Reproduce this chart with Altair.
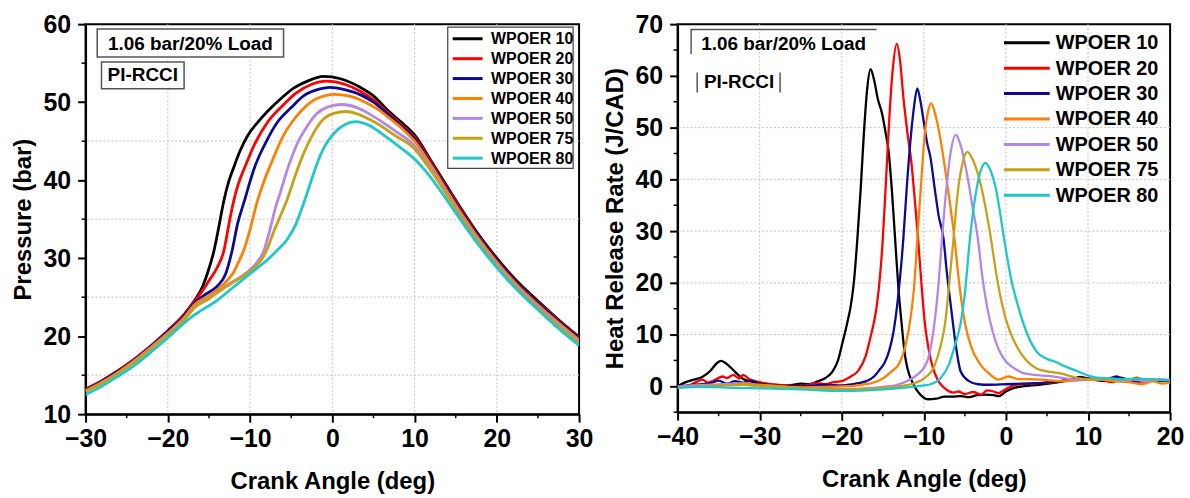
import altair as alt
import pandas as pd

FONT = "Liberation Sans"

SERIES = ["WPOER 10", "WPOER 20", "WPOER 30", "WPOER 40", "WPOER 50", "WPOER 75", "WPOER 80"]
COLORS = ["#000000", "#ff0000", "#0a0a96", "#ff8000", "#b586e3", "#c8a018", "#1ec8c8"]

# ---------------- Pressure (left panel) ----------------
COMP_CA = [-30, -28, -26, -24, -22, -20, -18, -16.8]
EXP_CA = [10, 12, 14.3, 16, 18, 20, 22.5, 25, 27.5, 30]

P10_CA = COMP_CA + [-15.8, -15.2, -14.4, -13.8, -13.2, -12.6, -12, -11.2, -10.3, -9,
                    -7.9, -6, -4.7, -3, -1.1, 1, 3.4, 5, 6.6, 8.3] + EXP_CA
P10_BAR = [13.2, 14.3, 15.6, 17.1, 18.8, 20.7, 22.8, 24.5,
           26.3, 28.0, 30.9, 34.0, 37.3, 39.8, 41.6, 43.8, 45.7, 47.5,
           48.8, 50.7, 51.8, 52.7, 53.3, 53.0, 51.9, 50.8, 49.1, 47.5,
           45.8, 42.5, 38.6, 35.8, 32.7, 30.0, 27.0, 24.5, 22.1, 19.9]

P20_CA = COMP_CA + [-16, -15, -14, -13.2, -12.6, -12, -11.4, -10.7, -9.5, -7.9,
                    -6, -4.5, -2.5, -0.7, 1.5, 3.4, 5, 6.6, 8.3] + EXP_CA
P20_BAR = [13.2, 14.3, 15.6, 17.1, 18.8, 20.7, 22.8, 24.4,
           25.5, 27.1, 28.8, 30.9, 34.2, 37.3, 39.6, 41.5, 44.5, 47.4,
           49.6, 51.1, 52.3, 52.7, 52.3, 51.4, 50.3, 48.8, 47.2,
           45.5, 42.3, 38.4, 35.6, 32.5, 29.8, 26.8, 24.3, 22.0, 19.8]

P30_CA = COMP_CA + [-15.5, -14, -13, -12.2, -11.5, -10.7, -10.1, -9.5, -8.2, -6.7,
                    -5, -3.5, -1.5, -0.3, 1.5, 3.5, 5, 6.6, 8.3] + EXP_CA
P30_BAR = [13.1, 14.2, 15.5, 17.0, 18.7, 20.6, 22.6, 24.2,
           25.3, 26.4, 27.9, 30.9, 34.5, 37.3, 39.5, 41.5, 44.6, 47.4,
           49.3, 50.8, 51.7, 51.9, 51.6, 50.9, 50.0, 48.6, 47.0,
           45.3, 42.1, 38.2, 35.4, 32.4, 29.7, 26.7, 24.2, 21.9, 19.7]

P40_CA = COMP_CA + [-15, -13, -12, -11.4, -10.7, -10, -9.2, -8.5, -7.5, -5.9,
                    -4.5, -3.5, -2, 0.3, 2, 4, 5.5, 7, 8.5] + EXP_CA
P40_BAR = [13.0, 14.1, 15.4, 16.9, 18.6, 20.4, 22.4, 24.0,
           25.2, 26.9, 28.2, 29.5, 31.2, 33.7, 37.0, 39.3, 42.0, 45.8,
           48.0, 49.2, 50.4, 51.0, 50.8, 50.0, 49.1, 47.9, 46.6,
           45.0, 41.9, 38.0, 35.2, 32.2, 29.5, 26.5, 24.0, 21.7, 19.5]

P50_CA = COMP_CA + [-15, -13, -11, -10, -9.2, -8.3, -7.6, -6.9, -6.3, -5.3,
                    -4.3, -3, -1.9, -0.5, 1.2, 3, 4.5, 6, 7.5] + EXP_CA
P50_BAR = [12.9, 14.0, 15.3, 16.8, 18.5, 20.3, 22.2, 23.7,
           24.9, 26.4, 27.7, 28.5, 29.4, 31.0, 33.6, 36.5, 38.5, 41.9,
           44.6, 47.0, 48.5, 49.4, 49.7, 49.3, 48.5, 47.5, 46.4,
           44.4, 41.5, 37.7, 34.9, 31.9, 29.2, 26.3, 23.8, 21.5, 19.3]

P75_CA = COMP_CA + [-15, -13, -11, -9.5, -8.5, -7.9, -7.2, -6.4, -5.5, -4.5,
                    -3.5, -2.3, -1.1, 0.3, 1.6, 3, 4.5, 6, 7.5] + EXP_CA
P75_BAR = [12.9, 14.0, 15.3, 16.7, 18.4, 20.2, 22.1, 23.6,
           24.8, 26.3, 27.6, 28.8, 30.0, 31.2, 33.2, 35.2, 37.5, 40.6,
           43.4, 46.0, 47.8, 48.6, 48.8, 48.5, 47.8, 46.9, 45.8,
           44.0, 41.2, 37.5, 34.7, 31.7, 29.0, 26.1, 23.6, 21.3, 19.1]

P80_CA = COMP_CA + [-14, -12, -9.9, -8, -6.7, -5.5, -4.5, -3.5, -2.7, -1.9,
                    -1, 0.1, 1.5, 2.8, 4.5, 6.2, 8] + EXP_CA
P80_BAR = [12.5, 13.6, 14.9, 16.3, 18.0, 19.8, 21.7, 22.7,
           24.6, 26.3, 28.1, 29.7, 31.0, 32.4, 34.2, 37.0, 39.5, 42.0,
           44.2, 45.9, 47.1, 47.5, 47.0, 45.8, 44.4,
           42.7, 40.3, 36.9, 34.3, 31.4, 28.8, 25.9, 23.4, 21.0, 18.8]

# ---------------- Heat release rate (right panel) ----------------
H10_CA = [-40, -39, -38, -37, -36, -35.2, -34.7, -34, -33, -32, -31, -30, -28, -26, -25, -24, -23, -22,
          -21.2, -20.5, -19.9, -19.3, -18.9, -18.5, -18.1, -17.7, -17.3, -16.9, -16.5, -16.1, -15.6,
          -15.1, -14.6, -14.3, -13.9, -13.5, -13.1, -12.7, -12.3, -12, -11.3, -10.5, -9.5, -8.5, -7.5,
          -6.5, -5.5, -4.5, -3.5, -2.5, -1.5, -0.9, 0, 1, 2, 4, 6, 8, 9, 10, 11, 12, 13, 14, 15, 16,
          17, 18, 19, 20]
H10_Q = [0.0, 0.8, 1.3, 1.8, 3.0, 4.5, 4.9, 4.3, 2.8, 1.4, 0.9, 0.5, 0.1, 0.3, 0.5, 0.4, 0.9, 1.6,
         2.7, 4.8, 8.5, 12.5, 15.6, 20.5, 28.5, 38.0, 49.0, 57.5, 61.3, 59.5, 55.5,
         52.8, 48.5, 45.5, 38.0, 28.5, 19.0, 12.0, 6.0, 3.5, 0.5, -1.5, -2.5, -2.4, -2.0,
         -2.0, -1.9, -2.1, -1.7, -1.6, -1.7, -1.9, -1.0, -0.3, 0.0, 0.3, 0.7, 1.3, 1.8, 1.5, 1.2, 1.0,
         1.4, 1.7, 1.2, 0.9, 1.1, 1.3, 1.0, 1.2]

H20_CA = [-40, -38.5, -37.5, -37, -36.3, -35.5, -34.5, -34, -33.2, -32.5, -32, -31.3, -30, -29, -27,
          -25, -23, -22, -21, -20, -19, -18, -17.1, -16.5, -16, -15.7, -15.3, -15, -14.6, -14.2,
          -13.8, -13.3, -12.9, -12.5, -12, -11.5, -11.1, -10.7, -10.3, -9.9, -9.4, -8.9, -8.3, -7.5,
          -6.4, -5.8, -5, -4, -3, -2.3, -1.5, -0.9, 0, 1, 2, 4, 6, 8, 10, 12, 13, 14, 15, 16, 17, 18, 20]
H20_Q = [-0.3, 0.2, 1.0, 1.3, 0.7, 1.2, 1.9, 1.6, 2.2, 1.5, 2.2, 1.4, 0.8, 0.5, 0.2,
         0.1, 0.6, 0.4, 0.8, 1.0, 1.8, 3.0, 5.8, 9.5, 13.0, 16.0, 22.0, 28.5, 40.0, 52.0,
         61.0, 66.2, 63.0, 56.0, 49.0, 43.0, 36.0, 28.5, 20.0, 12.5, 7.0, 3.6, 1.2, -0.3,
         -1.2, -1.0, -1.5, -1.1, -1.6, -0.8, -1.0, -1.3, -0.5, 0.2, 0.4, 0.6, 0.8, 1.4, 1.5, 1.1, 0.8,
         1.5, 1.2, 1.7, 0.7, 1.2, 1.0]

H30_CA = [-40, -38, -36, -35, -34, -33, -32, -31, -30, -28, -25, -22, -20, -18, -17, -16, -15.4,
          -14.8, -14.2, -13.7, -13.3, -12.9, -12.5, -12.1, -11.6, -11.2, -10.8, -10.4, -10, -9.6,
          -9.2, -8.7, -8.2, -7.6, -7.2, -6.7, -6.2, -5.5, -4.5, -3.4, -2, 0, 2, 4, 6, 8, 10, 12,
          13.5, 14.5, 15.5, 16.5, 18, 20]
H30_Q = [0.0, 0.3, 0.6, 1.1, 0.5, 1.0, 0.7, 1.1, 0.5, 0.2, 0.0, 0.3, 0.2, 0.6, 1.0, 2.0, 3.2,
         4.5, 7.0, 10.5, 15.0, 21.0, 28.5, 38.0, 48.0, 54.0, 57.6, 55.0, 51.0, 47.0,
         44.3, 38.5, 33.0, 28.5, 22.0, 15.4, 9.0, 2.8, 1.0, 0.4, 0.3, 0.4, 0.5, 0.6, 0.9, 1.2, 1.5, 1.3,
         1.9, 1.0, 0.8, 1.4, 1.0, 1.1]

H40_CA = [-40, -38, -36, -34, -32, -30, -28, -25, -22, -20, -18, -16.2, -15, -14, -13, -12.3,
          -11.7, -11.2, -10.8, -10.3, -9.9, -9.5, -9.1, -8.6, -8, -7.5, -7.1, -6.7, -6.3, -5.7, -5,
          -4.2, -3.2, -2, -0.9, 0.3, 1.5, 3, 5, 7, 9, 11, 13, 15, 16.5, 18, 19, 20]
H40_Q = [-0.3, 0.2, 0.0, 0.3, 0.6, 0.3, 0.1, -0.2, -0.1, 0.0, 0.2, 0.7, 1.5, 2.8, 4.4, 7.5,
         12.3, 19.0, 28.3, 40.0, 48.5, 53.0, 54.7, 52.5, 48.0, 43.0, 38.5, 34.0, 29.0, 20.0, 12.3,
         7.5, 4.4, 2.4, 1.3, 1.9, 1.4, 1.4, 1.2, 1.0, 1.2, 1.4, 1.0, 0.8, 0.4, 1.0, 0.5, 0.7]

H50_CA = [-40, -36, -33, -30, -27, -24, -20, -17, -15, -13.5, -12.5, -11, -9.7, -9.1, -8.7, -8.2,
          -7.8, -7.3, -6.8, -6.1, -5.5, -4.8, -4.1, -3.4, -2.9, -2.3, -1.6, -0.9, 0, 1, 1.9, 3.5,
          5.2, 7, 9, 11, 13, 14, 15.5, 17, 18.5, 20]
H50_Q = [0.0, 0.3, 0.5, 0.0, -0.2, -0.4, -0.5, -0.4, -0.1, 0.2, 0.7, 2.0, 4.4, 8.0, 12.3, 20.0,
         28.3, 37.5, 44.5, 48.6, 46.5, 41.5, 35.0, 28.3, 21.5, 15.4, 10.5, 7.2, 4.8, 3.5, 2.7, 2.2,
         2.0, 1.6, 1.2, 1.3, 1.5, 1.0, 1.3, 1.0, 1.4, 1.2]

H75_CA = [-40, -36, -32, -29, -25, -20, -16, -13, -11, -10, -8.7, -8, -7.4, -6.9, -6.4, -5.9,
          -5.3, -4.7, -4.1, -3.4, -2.6, -1.8, -1.1, -0.4, 0.5, 1.5, 2.5, 3.8, 5, 6.6, 8.7, 10, 12,
          14, 16, 18, 20]
H75_Q = [-0.2, 0.1, 0.3, 0.0, -0.3, -0.6, -0.4, 0.0, 0.7, 1.5, 4.0, 7.5, 12.3, 20.0, 28.3, 37.0,
         43.0, 45.3, 44.0, 41.0, 35.5, 28.3, 21.0, 15.4, 10.5, 7.2, 5.0, 3.4, 2.9, 2.5, 1.6, 1.3, 1.4,
         1.2, 1.5, 1.3, 1.2]

H80_CA = [-40, -37, -33, -30, -25, -20, -17, -14.8, -12, -10, -9.2, -8, -6.9, -6.2, -5.5, -5,
          -4.4, -3.8, -3.2, -2.5, -1.9, -1.2, -0.2, 0.6, 1.5, 2.5, 3.8, 5, 6.1, 7, 8.4, 10.7, 12,
          14, 16, 18, 20]
H80_Q = [-0.3, -0.1, -0.3, -0.4, -0.6, -0.9, -0.8, -0.6, -0.2, 0.2, 0.4, 1.5, 4.4, 8.0, 12.3, 18.0,
         28.3, 36.0, 41.0, 43.2, 41.8, 38.0, 28.3, 21.0, 15.4, 10.5, 6.6, 5.3, 4.7, 4.0, 3.1, 1.8, 1.6,
         1.4, 1.5, 1.3, 1.2]

# axis / grid values
L_XTICKS = [-30, -20, -10, 0, 10, 20, 30]
L_YTICKS = [10, 20, 30, 40, 50, 60]
L_XMINOR = [-25, -15, -5, 5, 15, 25]
L_YMINOR = [15, 25, 35, 45, 55]
L_XGRID = [-20, -10, 0, 10, 20]
L_YGRID = [15, 25, 35, 45]

R_XTICKS = [-40, -30, -20, -10, 0, 10, 20]
R_YTICKS = [0, 10, 20, 30, 40, 50, 60, 70]
R_XMINOR = [-35, -25, -15, -5, 5, 15]
R_YMINOR = [-5, 5, 15, 25, 35, 45, 55, 65]
R_XGRID = [-30, -20, -10, 0, 10]
R_YGRID = [10, 20, 30, 40, 50]

ANNOT_1 = "1.06 bar/20% Load"
ANNOT_2 = "PI-RCCI"


def long_df(xs_list, ys_list):
    rows = []
    for name, xs, ys in zip(SERIES, xs_list, ys_list):
        for a, b in zip(xs, ys):
            rows.append({"ca": a, "val": b, "series": name})
    return pd.DataFrame(rows)


one = pd.DataFrame({"k": [0]})


def panel(df, xdom, ydom, xticks, yticks, xminor, yminor, xgrid, ygrid, ytitle,
          W, H, line_w, legend_spec, annot_spec):
    xs = alt.Scale(domain=xdom, nice=False, zero=False)
    ys = alt.Scale(domain=ydom, nice=False, zero=False)
    xax = alt.Axis(values=xticks, title="Crank Angle (deg)", labelFlush=False,
                   labelOverlap=False, tickSize=8, labelPadding=4, titlePadding=19, grid=False)
    yax = alt.Axis(values=yticks, title=ytitle, labelFlush=False, labelOverlap=False,
                   tickSize=8, labelPadding=7, titlePadding=8, grid=False)

    def X(f):
        return alt.X(f, type="quantitative", scale=xs, axis=xax)

    def Y(f):
        return alt.Y(f, type="quantitative", scale=ys, axis=yax)

    layers = []
    gstyle = dict(color="#c4c4c4", strokeWidth=1, strokeDash=[2, 2])
    layers.append(alt.Chart(pd.DataFrame({"ca": xgrid})).mark_rule(**gstyle).encode(x=X("ca")))
    layers.append(alt.Chart(pd.DataFrame({"val": ygrid})).mark_rule(**gstyle).encode(y=Y("val")))
    # minor ticks
    layers.append(alt.Chart(pd.DataFrame({"ca": xminor})).mark_rule(color="black", strokeWidth=1.5)
                  .encode(x=X("ca"), y=alt.value(H), y2=alt.value(H + 4)))
    layers.append(alt.Chart(pd.DataFrame({"val": yminor})).mark_rule(color="black", strokeWidth=1.5)
                  .encode(y=Y("val"), x=alt.value(0), x2=alt.value(-4)))
    layers.append(
        alt.Chart(df).mark_line(strokeWidth=line_w, interpolate="monotone", clip=True).encode(
            x=X("ca"), y=Y("val"),
            color=alt.Color("series:N", scale=alt.Scale(domain=SERIES, range=COLORS), legend=None),
            order=alt.Order("ca:Q"),
        )
    )
    # annotations
    for kind, spec in annot_spec:
        if kind == "rect":
            x1, x2, y1, y2 = spec
            layers.append(alt.Chart(one).mark_rect(fill="white", stroke="#555555", strokeWidth=1.5)
                          .encode(x=alt.value(x1), x2=alt.value(x2), y=alt.value(y1), y2=alt.value(y2)))
        elif kind == "rule":
            x1, x2, y1, y2 = spec
            layers.append(alt.Chart(one).mark_rule(color="#555555", strokeWidth=1.5)
                          .encode(x=alt.value(x1), x2=alt.value(x2), y=alt.value(y1), y2=alt.value(y2)))
        else:
            txt, cx, cy, fs = spec
            layers.append(alt.Chart(pd.DataFrame({"t": [txt]})).mark_text(
                font=FONT, fontWeight="bold", fontSize=fs, color="black", align="center",
                baseline="middle").encode(x=alt.value(cx), y=alt.value(cy), text="t:N"))
    # legend
    box, lx1, lx2, tx, y0, dy, fs, lw = legend_spec
    if box is not None:
        bx1, bx2, by1, by2 = box
        layers.append(alt.Chart(one).mark_rect(fill="white", stroke="#444444", strokeWidth=1.2)
                      .encode(x=alt.value(bx1), x2=alt.value(bx2), y=alt.value(by1), y2=alt.value(by2)))
    for i, (name, col) in enumerate(zip(SERIES, COLORS)):
        yy = y0 + dy * i
        layers.append(alt.Chart(one).mark_rule(color=col, strokeWidth=lw)
                      .encode(x=alt.value(lx1), x2=alt.value(lx2), y=alt.value(yy)))
        layers.append(alt.Chart(pd.DataFrame({"t": [name]})).mark_text(
            font=FONT, fontWeight="bold", fontSize=fs, color="black", align="left",
            baseline="middle").encode(x=alt.value(tx), y=alt.value(yy + 0.5), text="t:N"))
    return alt.layer(*layers).properties(width=W, height=H)


dfp = long_df([P10_CA, P20_CA, P30_CA, P40_CA, P50_CA, P75_CA, P80_CA],
              [P10_BAR, P20_BAR, P30_BAR, P40_BAR, P50_BAR, P75_BAR, P80_BAR])
dfh = long_df([H10_CA, H20_CA, H30_CA, H40_CA, H50_CA, H75_CA, H80_CA],
              [H10_Q, H20_Q, H30_Q, H40_Q, H50_Q, H75_Q, H80_Q])

left = panel(
    dfp, [-30, 30], [10, 60], L_XTICKS, L_YTICKS, L_XMINOR, L_YMINOR, L_XGRID, L_YGRID,
    "Pressure (bar)", 496, 392, 2.8,
    ((364, 490, 3, 145), 369, 399, 407.5, 14.7, 20, 16, 3),
    [("rect", (11.7, 199, 5, 33)), ("text", (ANNOT_1, 105.3, 19.5, 19)),
     ("rect", (16, 99, 38, 65)), ("text", (ANNOT_2, 57.5, 51.5, 19))],
)

right = panel(
    dfh, [-40, 20], [-5, 70], R_XTICKS, R_YTICKS, R_XMINOR, R_YMINOR, R_XGRID, R_YGRID,
    "Heat Release Rate (J/CAD)", 495, 390, 2.3,
    (None, 328, 374, 380, 18.7, 25.55, 20, 3),
    [("rule", (13, 200, 5.3, 5.3)), ("rule", (13.6, 13.6, 5.3, 30)),
     ("rule", (19.7, 19.7, 48.7, 68.7)), ("rule", (103, 103, 48.7, 68.7)),
     ("text", (ANNOT_1, 106.6, 20.3, 19)), ("text", (ANNOT_2, 61.8, 58.5, 19))],
)

chart = alt.hconcat(left, right, spacing=8).properties(
    padding={"left": 10, "top": 10, "right": 5, "bottom": 5},
    background="white",
).configure_view(stroke="black", strokeWidth=2).configure_axis(
    labelFont=FONT, labelFontSize=25, labelFontWeight="bold", labelColor="black",
    titleFont=FONT, titleFontSize=24, titleFontWeight="bold", titleColor="black",
    domainColor="black", domainWidth=2, tickColor="black", tickWidth=2,
)

chart.save("out.html", embed_options={"renderer": "svg", "actions": False})
